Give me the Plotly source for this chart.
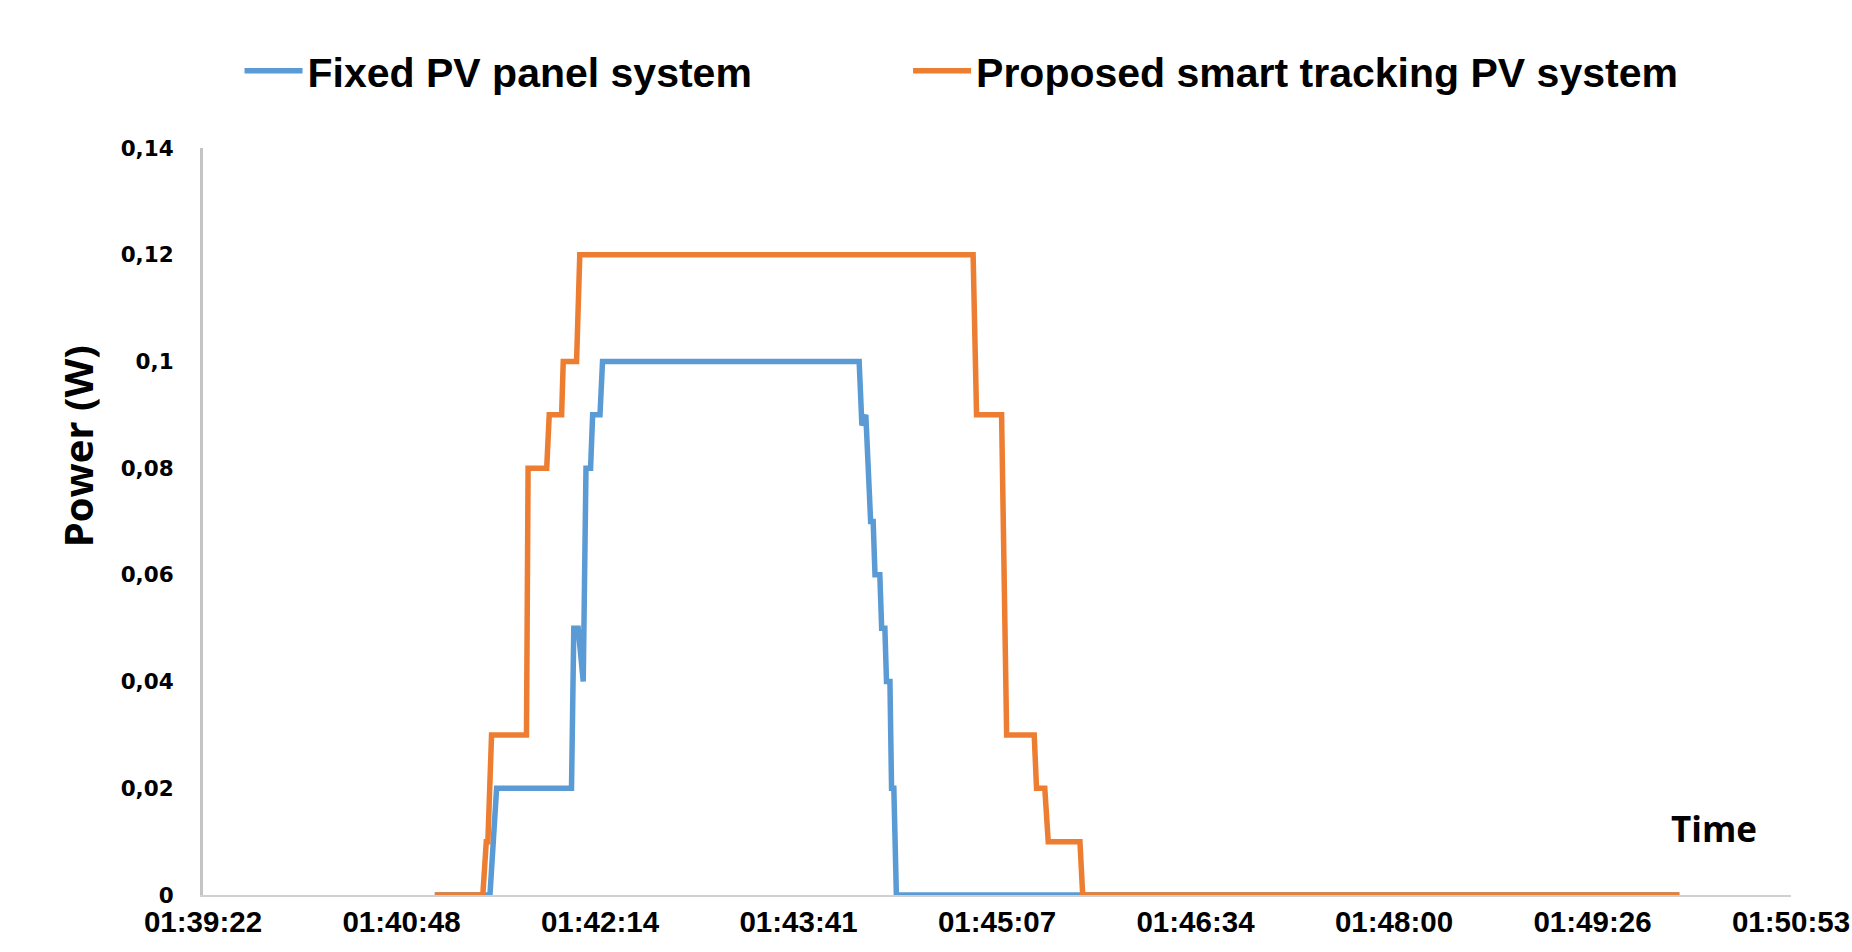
import plotly.graph_objects as go

BASE_DATE = "2024-01-01 "

# Fixed PV panel system (blue)
FIXED_TIME = ["01:41:02.5", "01:41:26.5", "01:41:29.4", "01:42:02.0", "01:42:03.0",
              "01:42:04.9", "01:42:07.1", "01:42:08.3", "01:42:10.3", "01:42:11.2",
              "01:42:14.4", "01:42:15.5", "01:44:07.2", "01:44:08.4", "01:44:10.1",
              "01:44:12.2", "01:44:13.3", "01:44:14.1", "01:44:16.2", "01:44:17.0",
              "01:44:18.4", "01:44:19.1", "01:44:20.6", "01:44:21.3", "01:44:22.3",
              "01:44:23.4", "01:50:04.2"]
FIXED_POWER = [0, 0, 0.02, 0.02, 0.05,
               0.05, 0.04, 0.08, 0.08, 0.09,
               0.09, 0.10, 0.10, 0.088, 0.09,
               0.07, 0.07, 0.06, 0.06, 0.05,
               0.05, 0.04, 0.04, 0.02, 0.02,
               0, 0]

# Proposed smart tracking PV system (orange)
TRACK_TIME = ["01:41:02.5", "01:41:23.4", "01:41:24.9", "01:41:25.6", "01:41:27.2",
              "01:41:42.4", "01:41:43.1", "01:41:51.2", "01:41:52.3", "01:41:57.7",
              "01:41:58.4", "01:42:04.2", "01:42:05.6", "01:44:56.8", "01:44:58.3",
              "01:45:09.2", "01:45:11.4", "01:45:23.4", "01:45:24.4", "01:45:28.0",
              "01:45:29.5", "01:45:43.3", "01:45:44.5", "01:50:04.2"]
TRACK_POWER = [0, 0, 0.01, 0.01, 0.03,
               0.03, 0.08, 0.08, 0.09, 0.09,
               0.10, 0.10, 0.12, 0.12, 0.09,
               0.09, 0.03, 0.03, 0.02, 0.02,
               0.01, 0.01, 0, 0]

# X axis (Excel time axis: day fractions, major unit 0.001 day)
X_TICK_DAYS = [0.069, 0.070, 0.071, 0.072, 0.073, 0.074, 0.075, 0.076, 0.077]
X_TICK_LABELS = ["01:39:22", "01:40:48", "01:42:14", "01:43:41", "01:45:07",
                 "01:46:34", "01:48:00", "01:49:26", "01:50:53"]
Y_TICK_VALUES = [0, 0.02, 0.04, 0.06, 0.08, 0.10, 0.12, 0.14]
Y_TICK_LABELS = ["0", "0,02", "0,04", "0,06", "0,08", "0,1", "0,12", "0,14"]

SERIES_NAMES = ["Fixed PV panel system", "Proposed smart tracking PV system"]
COLORS = ["#5B9BD5", "#ED7D31"]


def day_to_ts(d):
    ms = int(round(d * 86400 * 1000))
    h, rem = divmod(ms, 3600000)
    m, rem = divmod(rem, 60000)
    s, msr = divmod(rem, 1000)
    return f"{BASE_DATE}{h:02d}:{m:02d}:{s:02d}.{msr:03d}"


fig = go.Figure()
fig.add_trace(go.Scatter(
    x=[BASE_DATE + t for t in FIXED_TIME], y=FIXED_POWER, mode="lines",
    name=SERIES_NAMES[0], line=dict(color=COLORS[0], width=5.5), legend="legend"))
fig.add_trace(go.Scatter(
    x=[BASE_DATE + t for t in TRACK_TIME], y=TRACK_POWER, mode="lines",
    name=SERIES_NAMES[1], line=dict(color=COLORS[1], width=5.5), legend="legend2"))

legend_font = dict(family="Liberation Sans, Arial, sans-serif", size=41, color="black", weight="bold")

fig.update_layout(
    width=1852, height=952, autosize=False,
    margin=dict(l=203, r=61, t=148, b=57, autoexpand=False),
    paper_bgcolor="white", plot_bgcolor="white",
    showlegend=True,
    legend=dict(orientation="h", x=0.023, xanchor="left", y=1.103, yanchor="middle",
                font=legend_font, itemwidth=58, bgcolor="rgba(0,0,0,0)"),
    legend2=dict(orientation="h", x=0.4440, xanchor="left", y=1.103, yanchor="middle",
                 font=legend_font, itemwidth=58, bgcolor="rgba(0,0,0,0)"),
    xaxis=dict(
        type="date", automargin=False,
        range=[day_to_ts(X_TICK_DAYS[0]), day_to_ts(X_TICK_DAYS[-1])],
        tickmode="array", tickvals=[day_to_ts(d) for d in X_TICK_DAYS], ticktext=X_TICK_LABELS,
        showgrid=False, zeroline=False,
        showline=True, linecolor="#D0D0D0", linewidth=2,
        ticks="", ticklabelstandoff=0,
        tickfont=dict(family="Liberation Sans, Arial, sans-serif", size=29.5, color="black", weight="bold"),
    ),
    yaxis=dict(
        range=[0, 0.14], automargin=False,
        tickmode="array", tickvals=Y_TICK_VALUES, ticktext=Y_TICK_LABELS,
        showgrid=False, zeroline=False,
        showline=True, linecolor="#C4C4C4", linewidth=3,
        ticks="", ticklabelstandoff=22,
        tickfont=dict(family="DejaVu Sans, Verdana, sans-serif", size=21.5, color="black", weight="bold"),
    ),
    annotations=[
        dict(text="Power (W)", xref="paper", yref="paper", x=-0.079, y=0.60,
             xanchor="center", yanchor="middle", textangle=-90, showarrow=False,
             font=dict(family="Open Sans, sans-serif", size=40, color="black", weight="bold")),
        dict(text="Time", xref="paper", yref="paper", x=0.9516, y=0.089,
             xanchor="center", yanchor="middle", showarrow=False,
             font=dict(family="Open Sans, sans-serif", size=35, color="black", weight="bold")),
    ],
)

fig.write_html("out.html", config={"displayModeBar": False},
               post_script="document.body.style.margin='0';document.body.style.overflow='hidden';")
